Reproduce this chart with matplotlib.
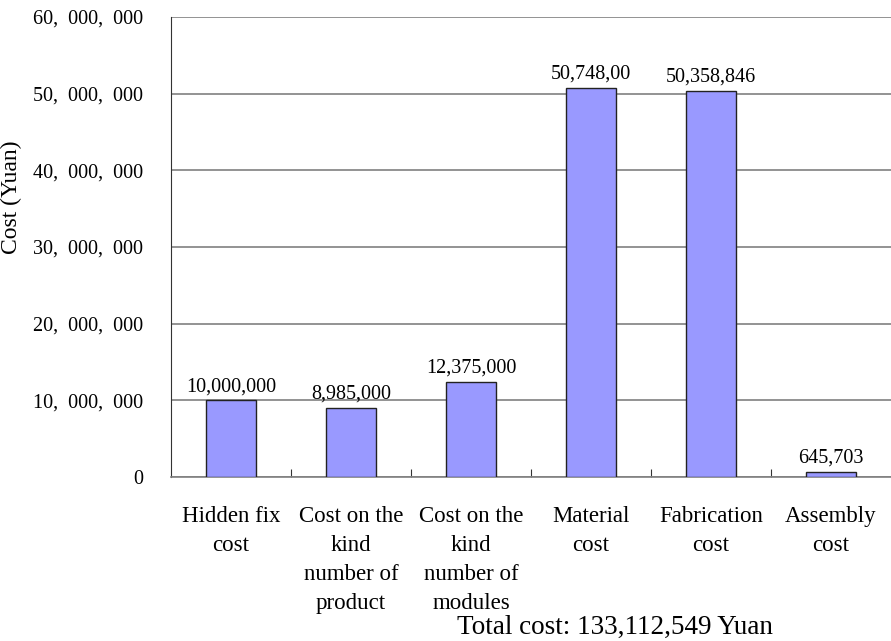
import matplotlib.pyplot as plt
from matplotlib.ticker import FuncFormatter

plt.rcParams['font.family'] = ['Liberation Serif', 'DejaVu Serif']

# 数据
categories = ['Hidden fix\ncost', 'Cost on the\nkind\nnumber of\nproduct',
              'Cost on the\nkind\nnumber of\nmodules', 'Material\ncost',
              'Fabrication\ncost', 'Assembly\ncost']
values = [10000000, 8985000, 12375000, 50748000, 50358846, 645703]
value_labels = ['10,000,000', '8,985,000', '12,375,000', '50,748,00',
                '50,358,846', '645,703']
y_ticks = [0, 10000000, 20000000, 30000000, 40000000, 50000000, 60000000]
total_text = 'Total cost: 133,112,549 Yuan'

fig = plt.figure(figsize=(8.91, 6.41), dpi=100)
ax = fig.add_axes([171 / 891, 1 - 477 / 641, 1 - 171 / 891, (477 - 17) / 641])

x = list(range(len(categories)))
ax.bar(x, values, width=0.41, color='#9999FF', edgecolor='#222222',
       linewidth=1.0, zorder=3)

for xi, v, lab in zip(x, values, value_labels):
    ax.annotate(lab, (xi, v), xytext=(0, 3), textcoords='offset points',
                ha='center', va='bottom', fontsize=14.5)

ax.set_xlim(-0.5, len(categories) - 0.5)
ax.set_ylim(0, 60000000)
ax.set_yticks(y_ticks)
ax.yaxis.set_major_formatter(FuncFormatter(lambda v, p: format(int(v), ',').replace(',', ',  ')))
ax.tick_params(axis='y', length=0, pad=20, labelsize=14.5)
ax.grid(axis='y', color='#808080', linewidth=1.2, zorder=0)

# x轴刻度在类别之间
ax.set_xticks([i + 0.5 for i in x[:-1]])
ax.set_xticklabels([])
ax.set_xticks(x, minor=True)
ax.set_xticklabels(categories, minor=True, fontsize=16.5, linespacing=1.5)
ax.tick_params(axis='x', which='major', direction='in', length=6, color='#333333')
ax.tick_params(axis='x', which='minor', length=0, pad=21)

for s in ['top', 'right']:
    ax.spines[s].set_visible(False)
ax.spines['bottom'].set_color('#808080')
ax.spines['bottom'].set_linewidth(1.2)
ax.spines['left'].set_color('#333333')

ax.set_ylabel('Cost (Yuan)', fontsize=17)
ax.yaxis.set_label_coords(-0.207, 0.609)

fig.text(615 / 891, 1 - 627 / 641, total_text, ha='center', va='center', fontsize=19.5)

fig.savefig('out.png', dpi=100)
